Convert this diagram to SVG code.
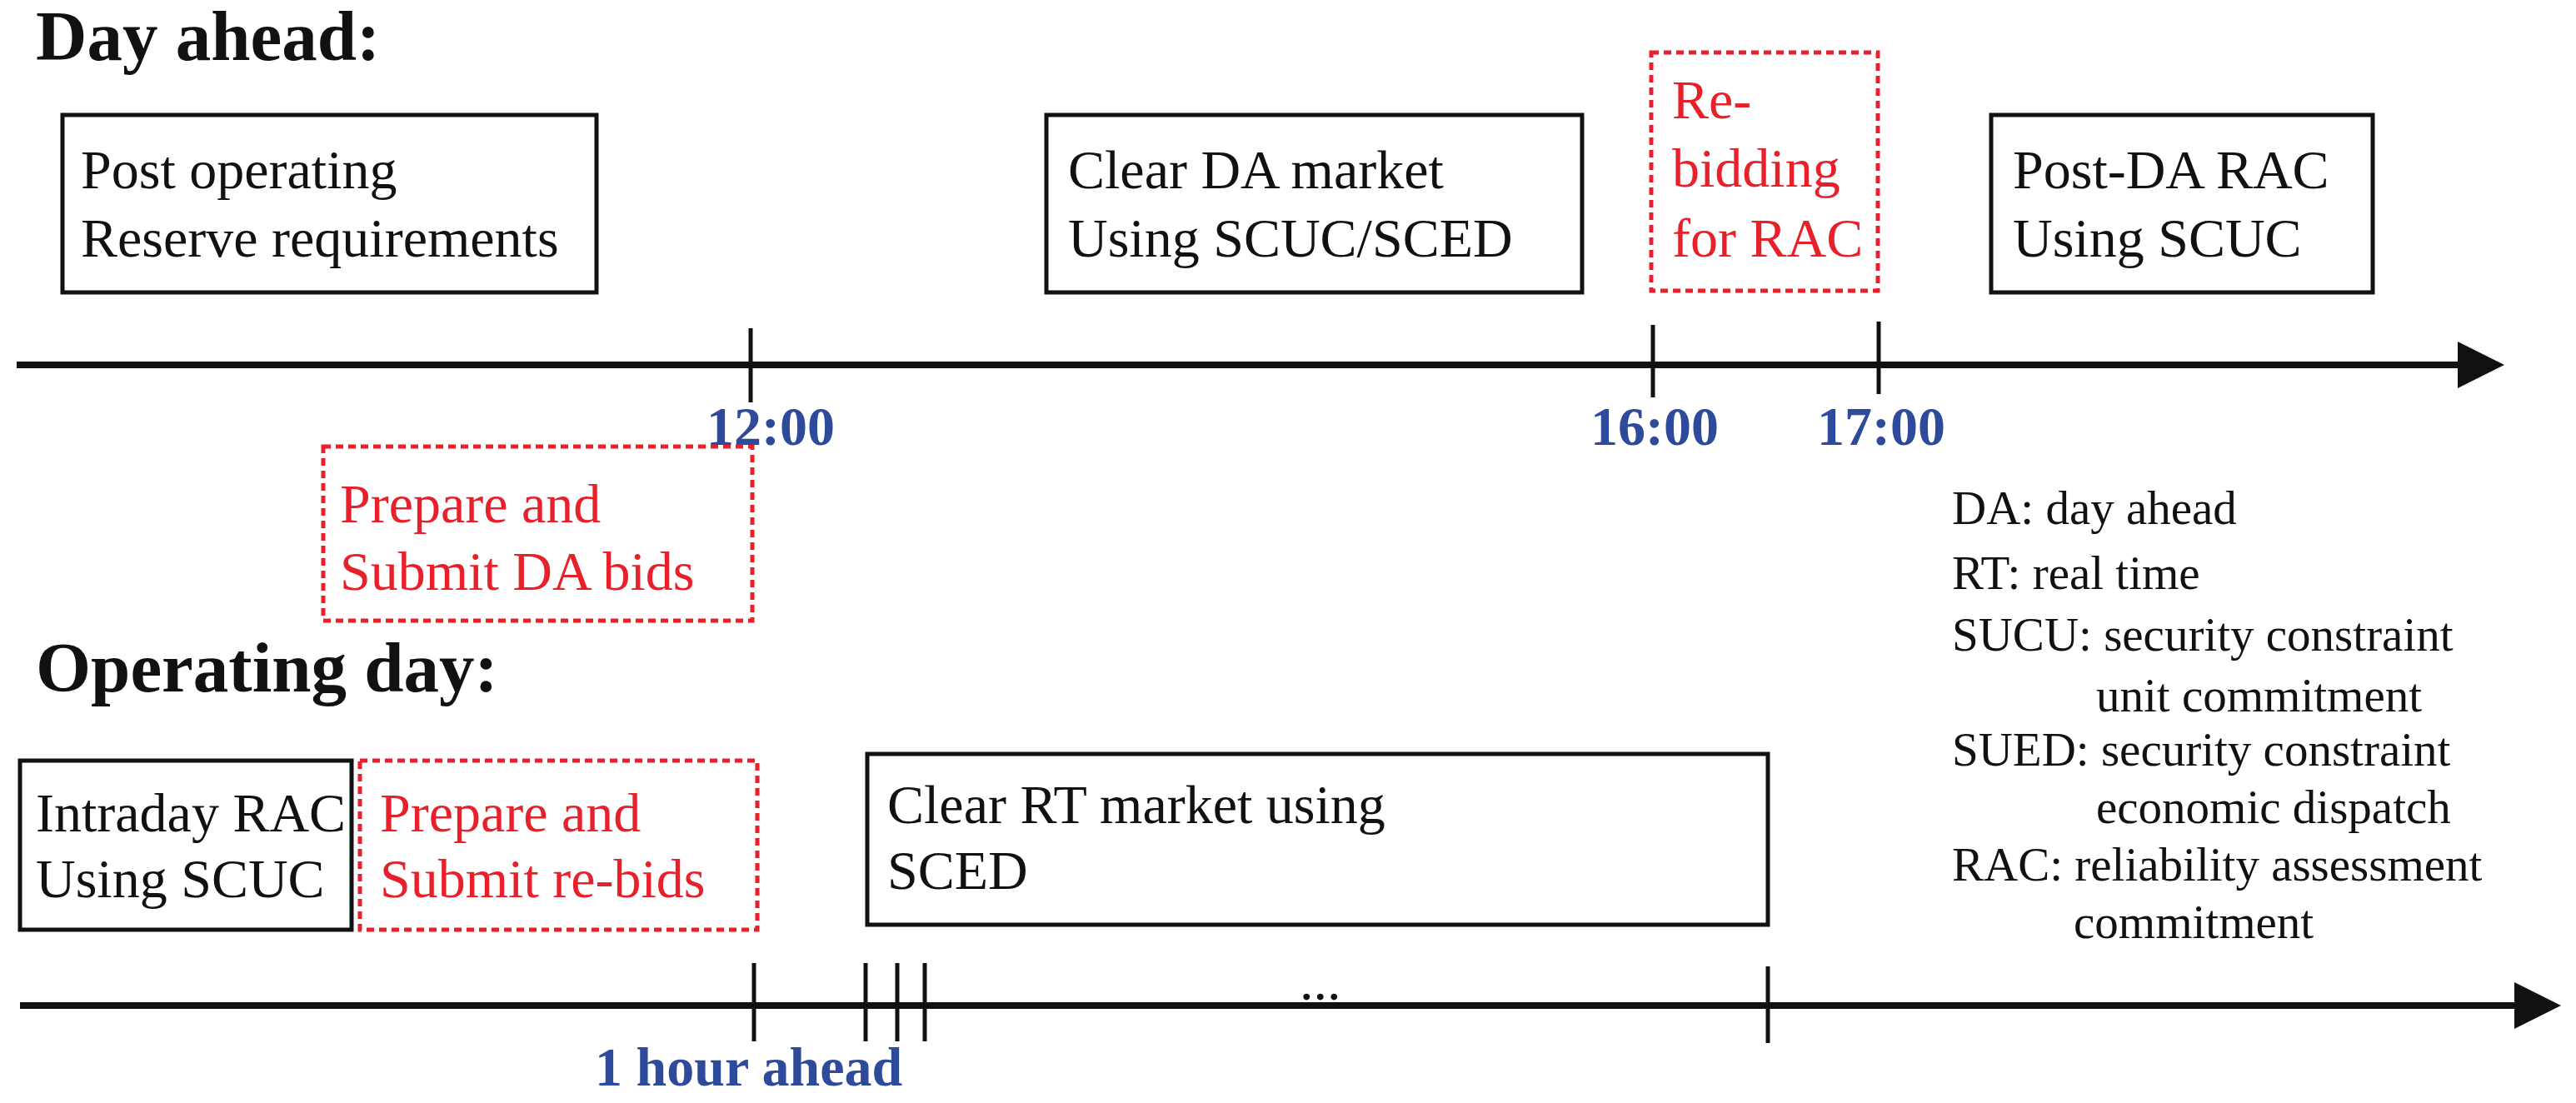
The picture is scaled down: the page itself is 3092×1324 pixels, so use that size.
<svg xmlns="http://www.w3.org/2000/svg" width="3092" height="1324" viewBox="0 0 3092 1324">
<style>
text{font-family:"Liberation Serif","Times New Roman",serif}
.t{font-size:85px;font-weight:bold;fill:#111}
.b{font-size:66px;fill:#111}
.r{font-size:66px;fill:#e8202a}
.h{font-size:66px;font-weight:bold;fill:#2e4a9a}
.l{font-size:57px;fill:#111}
.box{fill:#fff;stroke:#111;stroke-width:5}
.dash{fill:#fff;stroke:#e8202a;stroke-width:5;stroke-dasharray:9 6}
.ax{stroke:#111;stroke-width:8;fill:none}
.tk{stroke:#111;stroke-width:5}
</style>
<defs><marker id="ah" markerWidth="8" markerHeight="8" refX="0" refY="4" orient="auto" markerUnits="strokeWidth"><path d="M0,0.5 L7,4 L0,7.5 z" fill="#111"/></marker></defs>
<rect width="3092" height="1324" fill="#fff"/>
<text class="t" x="43" y="72">Day ahead:</text>
<text class="t" x="43" y="830">Operating day:</text>
<g id="postop"><rect class="box" x="75" y="138" width="641" height="213"/><text class="b" x="97" y="226">Post operating</text><text class="b" x="97" y="308">Reserve requirements</text></g>
<g id="clearda"><rect class="box" x="1256" y="138" width="643" height="213"/><text class="b" x="1282" y="226">Clear DA market</text><text class="b" x="1282" y="308">Using SCUC/SCED</text></g>
<g id="rebid"><rect class="dash" x="1982" y="63" width="272" height="286"/><text class="r" x="2007" y="142">Re-</text><text class="r" x="2007" y="224">bidding</text><text class="r" x="2007" y="308">for RAC</text></g>
<g id="postda"><rect class="box" x="2390" y="138" width="458" height="213"/><text class="b" x="2416" y="226">Post-DA RAC</text><text class="b" x="2416" y="308">Using SCUC</text></g>
<g id="prepda"><rect class="dash" x="388" y="536" width="515" height="209"/><text class="r" x="408" y="627">Prepare and</text><text class="r" x="408" y="708">Submit DA bids</text></g>
<g id="intraday"><rect class="box" x="24" y="913" width="398" height="203"/><text class="b" x="43" y="998">Intraday RAC</text><text class="b" x="43" y="1077">Using SCUC</text></g>
<g id="prepre"><rect class="dash" x="432" y="913" width="477" height="203"/><text class="r" x="456" y="998">Prepare and</text><text class="r" x="456" y="1077">Submit re-bids</text></g>
<g id="clearrt"><rect class="box" x="1041" y="905" width="1081" height="205"/><text class="b" x="1065" y="988">Clear RT market using</text><text class="b" x="1065" y="1067">SCED</text></g>
<g id="connectors">
<line class="ax" x1="20" y1="438" x2="2950" y2="438" marker-end="url(#ah)"/>
<line class="tk" x1="901" y1="394" x2="901" y2="483"/>
<line class="tk" x1="1984" y1="390" x2="1984" y2="477"/>
<line class="tk" x1="2255" y1="386" x2="2255" y2="473"/>
<line class="ax" x1="24" y1="1207" x2="3018" y2="1207" marker-end="url(#ah)"/>
<line class="tk" x1="905" y1="1156" x2="905" y2="1250"/>
<line class="tk" x1="1039" y1="1156" x2="1039" y2="1250"/>
<line class="tk" x1="1077" y1="1156" x2="1077" y2="1250"/>
<line class="tk" x1="1110" y1="1156" x2="1110" y2="1250"/>
<line class="tk" x1="2122" y1="1160" x2="2122" y2="1252"/>
</g>
<text class="h" x="848" y="534">12:00</text>
<text class="h" x="1909" y="534">16:00</text>
<text class="h" x="2181" y="534">17:00</text>
<text class="b" x="1560" y="1200">...</text>
<text class="h" x="714" y="1303">1 hour ahead</text>
<g id="legend">
<text class="l" x="2343" y="629">DA: day ahead</text>
<text class="l" x="2343" y="707">RT: real time</text>
<text class="l" x="2343" y="781">SUCU: security constraint</text>
<text class="l" x="2516" y="854">unit commitment</text>
<text class="l" x="2343" y="919">SUED: security constraint</text>
<text class="l" x="2516" y="988">economic dispatch</text>
<text class="l" x="2343" y="1057">RAC: reliability assessment</text>
<text class="l" x="2489" y="1126">commitment</text>
</g>
</svg>
